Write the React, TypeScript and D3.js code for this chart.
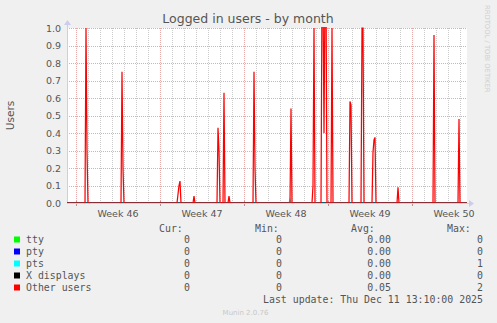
import React from "react";
import * as d3 from "d3";

const W = 497;
const H = 323;
const M = { left: 67, right: 467, top: 28, bottom: 203 };

const timeDomain: [string, string] = ["2025-11-08T06:00", "2025-12-11T14:00"];
const yTicks = [0, 0.1, 0.2, 0.3, 0.4, 0.5, 0.6, 0.7, 0.8, 0.9, 1.0];

// "Other users" – 2‑hour averages
const otherUsers: [string, number][] = [
  ["2025-11-08T06:00", 0],
  ["2025-11-09T18:00", 0], ["2025-11-09T20:00", 1.0], ["2025-11-09T22:00", 0.3], ["2025-11-10T00:00", 0],
  ["2025-11-12T18:00", 0], ["2025-11-12T20:00", 0.75], ["2025-11-12T22:00", 0.2], ["2025-11-13T00:00", 0],
  ["2025-11-17T10:00", 0], ["2025-11-17T12:00", 0.05], ["2025-11-17T14:00", 0.1], ["2025-11-17T16:00", 0.125], ["2025-11-17T18:00", 0],
  ["2025-11-18T18:00", 0], ["2025-11-18T20:00", 0.04], ["2025-11-18T22:00", 0],
  ["2025-11-20T18:00", 0], ["2025-11-20T20:00", 0.43], ["2025-11-20T22:00", 0.3], ["2025-11-21T00:00", 0],
  ["2025-11-21T06:00", 0], ["2025-11-21T08:00", 0.63], ["2025-11-21T10:00", 0],
  ["2025-11-21T16:00", 0], ["2025-11-21T18:00", 0.04], ["2025-11-21T20:00", 0],
  ["2025-11-23T18:00", 0], ["2025-11-23T20:00", 0.75], ["2025-11-23T22:00", 0.2], ["2025-11-24T00:00", 0],
  ["2025-11-26T20:00", 0], ["2025-11-26T22:00", 0.54], ["2025-11-27T00:00", 0],
  ["2025-11-28T16:00", 0], ["2025-11-28T18:00", 0.1], ["2025-11-28T20:00", 1.0], ["2025-11-28T22:00", 0],
  ["2025-11-29T10:00", 0], ["2025-11-29T12:00", 1.2], ["2025-11-29T14:00", 1.2], ["2025-11-29T16:00", 0.4],
  ["2025-11-29T18:00", 1.2], ["2025-11-29T20:00", 1.2], ["2025-11-29T22:00", 0],
  ["2025-11-30T06:00", 0], ["2025-11-30T08:00", 1.0], ["2025-11-30T10:00", 0],
  ["2025-12-01T18:00", 0], ["2025-12-01T20:00", 0.58], ["2025-12-01T22:00", 0.56], ["2025-12-02T00:00", 0],
  ["2025-12-02T18:00", 0], ["2025-12-02T20:00", 1.0], ["2025-12-02T22:00", 1.0], ["2025-12-03T00:00", 0],
  ["2025-12-03T16:00", 0], ["2025-12-03T18:00", 0.29], ["2025-12-03T20:00", 0.36], ["2025-12-03T22:00", 0.375], ["2025-12-04T00:00", 0],
  ["2025-12-05T18:00", 0], ["2025-12-05T20:00", 0.09], ["2025-12-05T22:00", 0],
  ["2025-12-08T18:00", 0], ["2025-12-08T20:00", 0.96], ["2025-12-08T22:00", 0],
  ["2025-12-10T20:00", 0], ["2025-12-10T22:00", 0.48], ["2025-12-11T00:00", 0],
  ["2025-12-11T14:00", 0],
];

const pts: [string, number][] = [
  ["2025-11-08T06:00", 0],
  ["2025-11-26T18:00", 0], ["2025-11-26T20:00", 0.02], ["2025-11-26T22:00", 0],
  ["2025-12-11T14:00", 0],
];
const zeroSeries: [string, number][] = [
  ["2025-11-08T06:00", 0],
  ["2025-12-11T14:00", 0],
];

const seriesNames = ["tty", "pty", "pts", "X displays", "Other users"];
const seriesColors = ["#00FF00", "#0000FF", "#00FFFF", "#000000", "#FF0000"];
const curValues = ["0", "0", "0", "0", "0"];
const minValues = ["0", "0", "0", "0", "0"];
const avgValues = ["0.00", "0.00", "0.00", "0.00", "0.05"];
const maxValues = ["0", "0", "1", "0", "2"];
const seriesData = [zeroSeries, zeroSeries, pts, zeroSeries, otherUsers];

const title = "Logged in users - by month";
const yLabel = "Users";
const lastUpdate = "Last update: Thu Dec 11 13:10:00 2025";
const footer = "Munin 2.0.76";
const watermark = "RRDTOOL / TOBI OETIKER";

const parse = (s: string) => new Date(s);

export default function App() {
  const x = d3
    .scaleTime()
    .domain(timeDomain.map(parse) as [Date, Date])
    .range([M.left, M.right]);
  const y = d3.scaleLinear().domain([0, 1]).range([M.bottom, M.top]);
  const [t0, t1] = x.domain();

  const days = d3.timeDay.range(t0, t1);
  const sundays = d3.timeSunday.range(t0, t1);
  const weekLabels = d3
    .timeSunday.range(d3.timeSunday.offset(t0, -1), t1)
    .map((s) => d3.timeHour.offset(s, 84))
    .filter((d) => d > t0 && d < t1);
  const fmtWeek = d3.timeFormat("%V");

  const line = d3
    .line<[string, number]>()
    .x((d) => x(parse(d[0])))
    .y((d) => y(d[1]));

  const sans = "'DejaVu Sans', sans-serif";
  const mono = "'DejaVu Sans Mono', monospace";
  const rowY = (i: number) => 243 + i * 12;

  return (
    <svg
      width={W}
      height={H}
      style={{ position: "absolute", left: 0, top: 0, display: "block" }}
    >
      <defs>
        <clipPath id="plotclip">
          <rect x={M.left} y={M.top - 1} width={M.right - M.left} height={M.bottom - M.top + 1} />
        </clipPath>
      </defs>
      <rect x={0} y={0} width={W} height={H} fill="#F0F0F0" />
      <rect x={M.left} y={M.top} width={M.right - M.left} height={M.bottom - M.top} fill="#FFFFFF" />

      {/* minor grid */}
      {days.map((d, i) => (
        <line
          key={"mg" + i}
          x1={Math.round(x(d)) + 0.5}
          x2={Math.round(x(d)) + 0.5}
          y1={M.top}
          y2={M.bottom}
          stroke="#CCCCCC"
          strokeDasharray="1 1"
        />
      ))}
      {/* major grid */}
      {sundays.map((d, i) => (
        <g key={"MG" + i}>
          <line
            x1={Math.round(x(d)) + 0.5}
            x2={Math.round(x(d)) + 0.5}
            y1={M.top}
            y2={M.bottom}
            stroke="#E8A8A8"
            strokeDasharray="1 1"
          />
          <line
            x1={Math.round(x(d)) + 0.5}
            x2={Math.round(x(d)) + 0.5}
            y1={M.bottom - 2}
            y2={M.bottom + 3}
            stroke="#C09090"
          />
        </g>
      ))}
      {yTicks.slice(1).map((v, i) => (
        <line
          key={"hg" + i}
          x1={M.left}
          x2={M.right}
          y1={Math.round(y(v)) + 0.5}
          y2={Math.round(y(v)) + 0.5}
          stroke="#E8A8A8"
          strokeDasharray="1 1"
        />
      ))}

      {/* axes */}
      <line x1={M.left + 0.5} x2={M.left + 0.5} y1={M.bottom} y2={M.top - 4} stroke="#CCCCEE" />
      <path d={`M${M.left - 3},${M.top - 3} L${M.left + 0.5},${M.top - 8} L${M.left + 4},${M.top - 3} Z`} fill="#CCCCEE" />
      <line x1={M.left} x2={M.right + 4} y1={M.bottom + 0.5} y2={M.bottom + 0.5} stroke="#CCCCEE" />
      <path d={`M${M.right + 2},${M.bottom - 3} L${M.right + 7},${M.bottom + 0.5} L${M.right + 2},${M.bottom + 4} Z`} fill="#CCCCEE" />

      {/* data */}
      <g clipPath="url(#plotclip)">
        {seriesData.map((s, i) => (
          <path
            key={"s" + i}
            d={line(s) || ""}
            fill="none"
            stroke={seriesColors[i]}
            strokeWidth={1.25}
            strokeLinejoin="miter"
          />
        ))}
      </g>

      {/* y tick labels */}
      {yTicks.map((v, i) => (
        <text
          key={"yl" + i}
          x={61}
          y={y(v) + 3.5}
          textAnchor="end"
          fontFamily={sans}
          fontSize={9.5}
          fill="#555555"
        >
          {d3.format(".1f")(v)}
        </text>
      ))}
      {/* x labels */}
      {weekLabels.map((d, i) => (
        <text
          key={"xl" + i}
          x={x(d)}
          y={216.5}
          textAnchor="middle"
          fontFamily={sans}
          fontSize={9.5}
          fill="#555555"
        >
          {"Week " + fmtWeek(d)}
        </text>
      ))}

      <text x={248} y={23} textAnchor="middle" fontFamily={sans} fontSize={12.5} fill="#555555">
        {title}
      </text>
      <text
        transform={`translate(14,${(M.top + M.bottom) / 2}) rotate(-90)`}
        textAnchor="middle"
        fontFamily={sans}
        fontSize={10.5}
        fill="#555555"
      >
        {yLabel}
      </text>
      <text
        transform={`translate(485,5) rotate(90)`}
        textAnchor="start"
        fontFamily={sans}
        fontSize={6.8}
        fill="#CFCFCF"
      >
        {watermark}
      </text>

      {/* legend */}
      <g fontFamily={mono} fontSize={9.9} fill="#555555">
        <text x={159} y={232}>Cur:</text>
        <text x={255} y={232}>Min:</text>
        <text x={351} y={232}>Avg:</text>
        <text x={447} y={232}>Max:</text>
        {seriesNames.map((n, i) => (
          <g key={"lg" + i}>
            <rect x={14} y={rowY(i) - 6.5} width={6} height={6} fill={seriesColors[i]} />
            <text x={26} y={rowY(i)}>{n}</text>
            <text x={190} y={rowY(i)} textAnchor="end">{curValues[i]}</text>
            <text x={282} y={rowY(i)} textAnchor="end">{minValues[i]}</text>
            <text x={391} y={rowY(i)} textAnchor="end">{avgValues[i]}</text>
            <text x={483} y={rowY(i)} textAnchor="end">{maxValues[i]}</text>
          </g>
        ))}
        <text x={483} y={303} textAnchor="end">{lastUpdate}</text>
      </g>
      <text x={245.5} y={315} textAnchor="middle" fontFamily={sans} fontSize={7} fill="#C8C8C8">
        {footer}
      </text>
    </svg>
  );
}
